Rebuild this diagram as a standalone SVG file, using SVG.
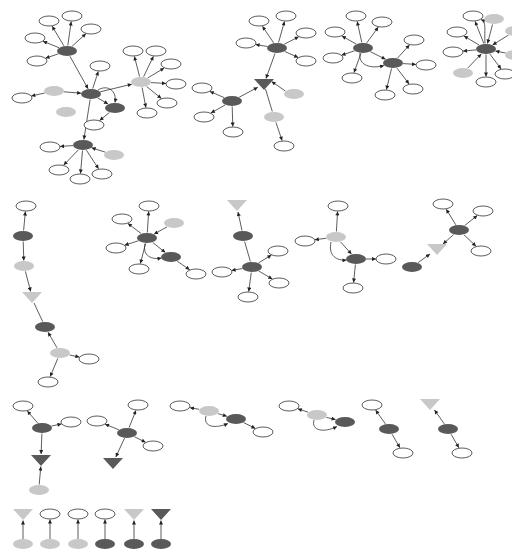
<svg xmlns="http://www.w3.org/2000/svg" width="512" height="549" viewBox="0 0 512 549">
<defs>
<marker id="ah" viewBox="0 0 10 10" refX="10" refY="5" markerWidth="5" markerHeight="4" orient="auto" markerUnits="userSpaceOnUse"><path d="M0,0L10,5L0,10z" fill="#222"/></marker>
<style>
.w{fill:#fff;stroke:#333;stroke-width:0.8}
.d{fill:#595959}
.l{fill:#c8c8c8}
.e{stroke:#333;stroke-width:0.8;fill:none;marker-end:url(#ah)}
.p{stroke:#333;stroke-width:0.8;fill:none}
</style>
</defs>
<rect width="512" height="549" fill="#fff"/>
<g id="edges">
<line class="e" x1="63.9" y1="45.8" x2="52.1" y2="26.2"/>
<line class="e" x1="67.8" y1="45.5" x2="71.2" y2="21.5"/>
<line class="e" x1="72.1" y1="46.3" x2="85.9" y2="33.7"/>
<line class="e" x1="59" y1="47.7" x2="43" y2="41.3"/>
<line class="e" x1="58.5" y1="53.8" x2="45.5" y2="58.2"/>
<line class="e" x1="69.9" y1="56.2" x2="88.1" y2="88.8"/>
<line class="e" x1="92.7" y1="88.6" x2="98.3" y2="71.4"/>
<line class="e" x1="100.2" y1="91.8" x2="131.8" y2="84.2"/>
<line class="e" x1="63.9" y1="91.8" x2="81.1" y2="93.2"/>
<line class="e" x1="44.7" y1="93" x2="31.3" y2="96"/>
<line class="e" x1="97.9" y1="98" x2="108.1" y2="104"/>
<path class="e" d="M98,90 C108,84 117,91 115,102.5"/>
<line class="e" x1="109.4" y1="112.5" x2="99.6" y2="120.5"/>
<line class="e" x1="90.1" y1="99.5" x2="83.9" y2="139.5"/>
<line class="e" x1="73" y1="145.6" x2="60" y2="146.4"/>
<line class="e" x1="78.3" y1="149.9" x2="63.7" y2="165.1"/>
<line class="e" x1="82.5" y1="150.5" x2="80.5" y2="173.5"/>
<line class="e" x1="86.4" y1="150.2" x2="98.6" y2="168.8"/>
<line class="e" x1="105.4" y1="152.2" x2="91.6" y2="147.8"/>
<line class="e" x1="139.6" y1="76.6" x2="134.4" y2="56.4"/>
<line class="e" x1="143.6" y1="76.7" x2="153.4" y2="56.3"/>
<line class="e" x1="147.8" y1="77.9" x2="164.2" y2="68.1"/>
<line class="e" x1="151" y1="82.6" x2="166" y2="83.4"/>
<line class="e" x1="146.6" y1="86.5" x2="161.4" y2="98.5"/>
<line class="e" x1="142.1" y1="87.5" x2="145.9" y2="107.5"/>
<line class="e" x1="273.6" y1="42.8" x2="262.4" y2="26.2"/>
<line class="e" x1="278.5" y1="42.6" x2="284.5" y2="21.4"/>
<line class="e" x1="284.3" y1="44.2" x2="298.7" y2="36.8"/>
<line class="e" x1="267.4" y1="46.5" x2="255.6" y2="44.5"/>
<line class="e" x1="284.8" y1="51.5" x2="298.2" y2="57.5"/>
<line class="e" x1="275" y1="53.5" x2="266" y2="78.5"/>
<line class="e" x1="239.2" y1="97.2" x2="257.8" y2="87.3"/>
<line class="e" x1="285.4" y1="91.1" x2="271.6" y2="81.5"/>
<line class="p" x1="265.5" y1="89" x2="272.3" y2="111.5"/>
<line class="e" x1="275.9" y1="122.4" x2="282.1" y2="140.6"/>
<line class="e" x1="224.1" y1="97.6" x2="209.9" y2="91.4"/>
<line class="e" x1="225.1" y1="105" x2="210.9" y2="113"/>
<line class="e" x1="232.2" y1="106.5" x2="232.8" y2="126.5"/>
<line class="e" x1="361.8" y1="42.5" x2="357.2" y2="21.5"/>
<line class="e" x1="366.7" y1="42.9" x2="378.3" y2="27.1"/>
<line class="e" x1="356.1" y1="44" x2="341.9" y2="36"/>
<line class="e" x1="354.5" y1="50.8" x2="341.5" y2="55.2"/>
<line class="e" x1="361" y1="53.4" x2="354" y2="72.6"/>
<line class="e" x1="370.4" y1="51.7" x2="385.6" y2="59.3"/>
<path class="e" d="M360,53 C358,66 372,69 384,65.5"/>
<line class="e" x1="397.5" y1="58.1" x2="409.5" y2="44.9"/>
<line class="e" x1="403" y1="63.6" x2="416" y2="64.4"/>
<line class="e" x1="396.9" y1="68.1" x2="409.1" y2="83.9"/>
<line class="e" x1="391.6" y1="68.4" x2="386.4" y2="89.6"/>
<line class="e" x1="483.9" y1="43.6" x2="475.1" y2="21.4"/>
<path class="e" d="M485,43.5 C484,30 487,22 481,19.5"/>
<line class="e" x1="479.1" y1="45" x2="463.9" y2="36"/>
<line class="e" x1="476" y1="49.9" x2="463" y2="51.1"/>
<line class="e" x1="486" y1="54.5" x2="486" y2="76.5"/>
<line class="e" x1="489.9" y1="54.1" x2="501.1" y2="68.9"/>
<line class="e" x1="492.5" y1="24.5" x2="487.5" y2="43.5"/>
<line class="e" x1="508.4" y1="35.1" x2="492.6" y2="44.9"/>
<line class="e" x1="505.6" y1="53" x2="495.4" y2="51"/>
<line class="e" x1="467.7" y1="68.1" x2="481.3" y2="53.9"/>
<line class="e" x1="23.6" y1="230.5" x2="25.4" y2="211.5"/>
<line class="e" x1="23.2" y1="241.5" x2="23.8" y2="260.5"/>
<line class="e" x1="25.4" y1="271.4" x2="30.7" y2="291.5"/>
<line class="e" x1="57" y1="347.8" x2="48" y2="332.2"/>
<line class="p" x1="34" y1="303" x2="42.7" y2="321.6"/>
<line class="e" x1="69.6" y1="355" x2="79.4" y2="357"/>
<line class="e" x1="57.8" y1="358.4" x2="50.2" y2="376.6"/>
<line class="e" x1="147.3" y1="232.5" x2="148.7" y2="211.5"/>
<line class="e" x1="141.1" y1="233.5" x2="127.9" y2="223.5"/>
<line class="e" x1="138.4" y1="240.8" x2="124.6" y2="245.2"/>
<line class="e" x1="145.6" y1="243.5" x2="140.4" y2="263.5"/>
<line class="e" x1="167" y1="226.9" x2="154" y2="234.1"/>
<line class="e" x1="152.7" y1="242.5" x2="165.3" y2="252.5"/>
<path class="e" d="M145,243.5 C142,256 152,260 161.5,258"/>
<line class="e" x1="177.3" y1="261.3" x2="189.7" y2="269.7"/>
<line class="e" x1="242" y1="230.6" x2="238" y2="212"/>
<line class="p" x1="250.4" y1="261.5" x2="244.6" y2="241.5"/>
<line class="e" x1="258.6" y1="262.9" x2="271.4" y2="255.1"/>
<line class="e" x1="242.4" y1="268.6" x2="231.6" y2="270.4"/>
<line class="e" x1="258.7" y1="271" x2="272.3" y2="279"/>
<line class="e" x1="251.3" y1="272.5" x2="248.7" y2="291.5"/>
<line class="e" x1="336.4" y1="231.5" x2="337.6" y2="211.5"/>
<line class="e" x1="326.2" y1="238.3" x2="314.8" y2="239.7"/>
<line class="e" x1="340.5" y1="241.9" x2="351.5" y2="254.1"/>
<path class="e" d="M331,242 C328,256 337,261 346.5,260"/>
<line class="e" x1="366" y1="259" x2="376" y2="259"/>
<line class="e" x1="355.4" y1="264.5" x2="353.6" y2="282.5"/>
<line class="e" x1="455.8" y1="224.8" x2="446.2" y2="209.2"/>
<line class="e" x1="464.7" y1="225.5" x2="477.3" y2="215.5"/>
<line class="e" x1="464" y1="234.8" x2="476" y2="246.2"/>
<line class="e" x1="453.6" y1="234.6" x2="443" y2="244"/>
<line class="e" x1="418.1" y1="262.6" x2="430" y2="254"/>
<line class="e" x1="37.7" y1="423" x2="27.3" y2="411"/>
<line class="e" x1="51.5" y1="426" x2="61.5" y2="424"/>
<line class="e" x1="41.9" y1="433.5" x2="41.1" y2="454"/>
<line class="e" x1="39.2" y1="484.5" x2="40.8" y2="466.5"/>
<line class="e" x1="129.1" y1="427.6" x2="135.9" y2="410.4"/>
<line class="e" x1="118.9" y1="429.8" x2="105.1" y2="424.2"/>
<line class="e" x1="134.4" y1="436.7" x2="145.6" y2="442.3"/>
<line class="e" x1="124.6" y1="438" x2="115.8" y2="457"/>
<line class="e" x1="199.1" y1="409.3" x2="189.9" y2="407.7"/>
<line class="e" x1="218.1" y1="413.7" x2="226.9" y2="416.3"/>
<path class="e" d="M206,416 C203,427 215,429 228,423.5"/>
<line class="e" x1="243.6" y1="422.6" x2="255.4" y2="428.4"/>
<line class="e" x1="308.2" y1="412.2" x2="297.8" y2="408.8"/>
<line class="e" x1="326.4" y1="417.4" x2="335.6" y2="419.6"/>
<path class="e" d="M314,420 C311,431 324,433 337,426.5"/>
<line class="e" x1="385.4" y1="423.9" x2="375.6" y2="410.1"/>
<line class="e" x1="392.1" y1="434.2" x2="399.9" y2="447.8"/>
<line class="e" x1="444.3" y1="423.9" x2="434.5" y2="410"/>
<line class="e" x1="451.1" y1="434.2" x2="458.9" y2="447.8"/>
<line class="e" x1="23" y1="539" x2="23" y2="520.5"/>
<line class="e" x1="50" y1="539" x2="50" y2="519.5"/>
<line class="e" x1="78" y1="539" x2="78" y2="519.5"/>
<line class="e" x1="105" y1="539" x2="105" y2="519.5"/>
<line class="e" x1="134" y1="539" x2="134" y2="520.5"/>
<line class="e" x1="161" y1="539" x2="161" y2="520.5"/>
</g>
<g id="n1"><ellipse class="d" cx="67" cy="51" rx="10" ry="5"/></g>
<g id="n2"><ellipse class="w" cx="49" cy="21" rx="10" ry="5"/></g>
<g id="n3"><ellipse class="w" cx="72" cy="16" rx="10" ry="5"/></g>
<g id="n4"><ellipse class="w" cx="91" cy="29" rx="10" ry="5"/></g>
<g id="n5"><ellipse class="w" cx="35" cy="38" rx="10" ry="5"/></g>
<g id="n6"><ellipse class="w" cx="37" cy="61" rx="10" ry="5"/></g>
<g id="n7"><ellipse class="d" cx="91" cy="94" rx="10" ry="5"/></g>
<g id="n8"><ellipse class="w" cx="100" cy="66" rx="10" ry="5"/></g>
<g id="n9"><ellipse class="l" cx="54" cy="91" rx="10" ry="5"/></g>
<g id="n10"><ellipse class="w" cx="22" cy="98" rx="10" ry="5"/></g>
<g id="n11"><ellipse class="l" cx="66" cy="112" rx="10" ry="5"/></g>
<g id="n12"><ellipse class="d" cx="115" cy="108" rx="10" ry="5"/></g>
<g id="n13"><ellipse class="w" cx="94" cy="125" rx="10" ry="5"/></g>
<g id="n14"><ellipse class="d" cx="83" cy="145" rx="10" ry="5"/></g>
<g id="n15"><ellipse class="w" cx="50" cy="147" rx="10" ry="5"/></g>
<g id="n16"><ellipse class="w" cx="59" cy="170" rx="10" ry="5"/></g>
<g id="n17"><ellipse class="w" cx="80" cy="179" rx="10" ry="5"/></g>
<g id="n18"><ellipse class="w" cx="102" cy="174" rx="10" ry="5"/></g>
<g id="n19"><ellipse class="l" cx="114" cy="155" rx="10" ry="5"/></g>
<g id="n20"><ellipse class="l" cx="141" cy="82" rx="10" ry="5"/></g>
<g id="n21"><ellipse class="w" cx="133" cy="51" rx="10" ry="5"/></g>
<g id="n22"><ellipse class="w" cx="156" cy="51" rx="10" ry="5"/></g>
<g id="n23"><ellipse class="w" cx="171" cy="64" rx="10" ry="5"/></g>
<g id="n24"><ellipse class="w" cx="176" cy="84" rx="10" ry="5"/></g>
<g id="n25"><ellipse class="w" cx="167" cy="103" rx="10" ry="5"/></g>
<g id="n26"><ellipse class="w" cx="147" cy="113" rx="10" ry="5"/></g>
<g id="n27"><ellipse class="d" cx="277" cy="48" rx="10" ry="5"/></g>
<g id="n28"><ellipse class="w" cx="259" cy="21" rx="10" ry="5"/></g>
<g id="n29"><ellipse class="w" cx="286" cy="16" rx="10" ry="5"/></g>
<g id="n30"><ellipse class="w" cx="306" cy="33" rx="10" ry="5"/></g>
<g id="n31"><ellipse class="w" cx="246" cy="43" rx="10" ry="5"/></g>
<g id="n32"><ellipse class="w" cx="306" cy="61" rx="10" ry="5"/></g>
<g id="n33"><polygon class="d" points="254,79 274,79 264,90"/></g>
<g id="n34"><ellipse class="l" cx="294" cy="94" rx="10" ry="5"/></g>
<g id="n35"><ellipse class="l" cx="274" cy="117" rx="10" ry="5"/></g>
<g id="n36"><ellipse class="w" cx="284" cy="146" rx="10" ry="5"/></g>
<g id="n37"><ellipse class="d" cx="232" cy="101" rx="10" ry="5"/></g>
<g id="n38"><ellipse class="w" cx="202" cy="88" rx="10" ry="5"/></g>
<g id="n39"><ellipse class="w" cx="204" cy="117" rx="10" ry="5"/></g>
<g id="n40"><ellipse class="w" cx="233" cy="132" rx="10" ry="5"/></g>
<g id="n41"><ellipse class="d" cx="363" cy="48" rx="10" ry="5"/></g>
<g id="n42"><ellipse class="w" cx="356" cy="16" rx="10" ry="5"/></g>
<g id="n43"><ellipse class="w" cx="382" cy="22" rx="10" ry="5"/></g>
<g id="n44"><ellipse class="w" cx="335" cy="32" rx="10" ry="5"/></g>
<g id="n45"><ellipse class="w" cx="333" cy="58" rx="10" ry="5"/></g>
<g id="n46"><ellipse class="w" cx="352" cy="78" rx="10" ry="5"/></g>
<g id="n47"><ellipse class="d" cx="393" cy="63" rx="10" ry="5"/></g>
<g id="n48"><ellipse class="w" cx="414" cy="40" rx="10" ry="5"/></g>
<g id="n49"><ellipse class="w" cx="426" cy="65" rx="10" ry="5"/></g>
<g id="n50"><ellipse class="w" cx="413" cy="89" rx="10" ry="5"/></g>
<g id="n51"><ellipse class="w" cx="385" cy="95" rx="10" ry="5"/></g>
<g id="n52"><ellipse class="d" cx="486" cy="49" rx="10" ry="5"/></g>
<g id="n53"><ellipse class="w" cx="473" cy="16" rx="10" ry="5"/></g>
<g id="n54"><ellipse class="w" cx="457" cy="32" rx="10" ry="5"/></g>
<g id="n55"><ellipse class="w" cx="453" cy="52" rx="10" ry="5"/></g>
<g id="n56"><ellipse class="w" cx="486" cy="82" rx="10" ry="5"/></g>
<g id="n57"><ellipse class="w" cx="505" cy="74" rx="10" ry="5"/></g>
<g id="n58"><ellipse class="l" cx="494" cy="19" rx="10" ry="5"/></g>
<g id="n59"><ellipse class="l" cx="515" cy="31" rx="10" ry="5"/></g>
<g id="n60"><ellipse class="l" cx="515" cy="55" rx="10" ry="5"/></g>
<g id="n61"><ellipse class="l" cx="463" cy="73" rx="10" ry="5"/></g>
<g id="n62"><ellipse class="w" cx="26" cy="206" rx="10" ry="5"/></g>
<g id="n63"><ellipse class="d" cx="23" cy="236" rx="10" ry="5"/></g>
<g id="n64"><ellipse class="l" cx="24" cy="266" rx="10" ry="5"/></g>
<g id="n65"><polygon class="l" points="22,292 42,292 32,303"/></g>
<g id="n66"><ellipse class="d" cx="45" cy="327" rx="10" ry="5"/></g>
<g id="n67"><ellipse class="l" cx="60" cy="353" rx="10" ry="5"/></g>
<g id="n68"><ellipse class="w" cx="89" cy="359" rx="10" ry="5"/></g>
<g id="n69"><ellipse class="w" cx="48" cy="382" rx="10" ry="5"/></g>
<g id="n70"><ellipse class="d" cx="147" cy="238" rx="10" ry="5"/></g>
<g id="n71"><ellipse class="w" cx="149" cy="206" rx="10" ry="5"/></g>
<g id="n72"><ellipse class="w" cx="122" cy="219" rx="10" ry="5"/></g>
<g id="n73"><ellipse class="w" cx="116" cy="248" rx="10" ry="5"/></g>
<g id="n74"><ellipse class="w" cx="139" cy="269" rx="10" ry="5"/></g>
<g id="n75"><ellipse class="l" cx="174" cy="223" rx="10" ry="5"/></g>
<g id="n76"><ellipse class="d" cx="171" cy="257" rx="10" ry="5"/></g>
<g id="n77"><ellipse class="w" cx="196" cy="274" rx="10" ry="5"/></g>
<g id="n78"><polygon class="l" points="227,200 247,200 237,211"/></g>
<g id="n79"><ellipse class="d" cx="243" cy="236" rx="10" ry="5"/></g>
<g id="n80"><ellipse class="d" cx="252" cy="267" rx="10" ry="5"/></g>
<g id="n81"><ellipse class="w" cx="278" cy="251" rx="10" ry="5"/></g>
<g id="n82"><ellipse class="w" cx="222" cy="272" rx="10" ry="5"/></g>
<g id="n83"><ellipse class="w" cx="279" cy="283" rx="10" ry="5"/></g>
<g id="n84"><ellipse class="w" cx="248" cy="297" rx="10" ry="5"/></g>
<g id="n85"><ellipse class="l" cx="336" cy="237" rx="10" ry="5"/></g>
<g id="n86"><ellipse class="w" cx="338" cy="206" rx="10" ry="5"/></g>
<g id="n87"><ellipse class="w" cx="305" cy="241" rx="10" ry="5"/></g>
<g id="n88"><ellipse class="d" cx="356" cy="259" rx="10" ry="5"/></g>
<g id="n89"><ellipse class="w" cx="386" cy="259" rx="10" ry="5"/></g>
<g id="n90"><ellipse class="w" cx="353" cy="288" rx="10" ry="5"/></g>
<g id="n91"><ellipse class="d" cx="459" cy="230" rx="10" ry="5"/></g>
<g id="n92"><ellipse class="w" cx="443" cy="204" rx="10" ry="5"/></g>
<g id="n93"><ellipse class="w" cx="483" cy="211" rx="10" ry="5"/></g>
<g id="n94"><ellipse class="w" cx="481" cy="251" rx="10" ry="5"/></g>
<g id="n95"><polygon class="l" points="427,244 447,244 437,255"/></g>
<g id="n96"><ellipse class="d" cx="412" cy="267" rx="10" ry="5"/></g>
<g id="n97"><ellipse class="w" cx="23" cy="406" rx="10" ry="5"/></g>
<g id="n98"><ellipse class="d" cx="42" cy="428" rx="10" ry="5"/></g>
<g id="n99"><ellipse class="w" cx="71" cy="422" rx="10" ry="5"/></g>
<g id="n100"><polygon class="d" points="31,455 51,455 41,466"/></g>
<g id="n101"><ellipse class="l" cx="39" cy="490" rx="10" ry="5"/></g>
<g id="n102"><ellipse class="w" cx="138" cy="405" rx="10" ry="5"/></g>
<g id="n103"><ellipse class="w" cx="97" cy="421" rx="10" ry="5"/></g>
<g id="n104"><ellipse class="d" cx="127" cy="433" rx="10" ry="5"/></g>
<g id="n105"><ellipse class="w" cx="153" cy="446" rx="10" ry="5"/></g>
<g id="n106"><polygon class="d" points="103,458 123,458 113,469"/></g>
<g id="n107"><ellipse class="w" cx="180" cy="406" rx="10" ry="5"/></g>
<g id="n108"><ellipse class="l" cx="209" cy="411" rx="10" ry="5"/></g>
<g id="n109"><ellipse class="d" cx="236" cy="419" rx="10" ry="5"/></g>
<g id="n110"><ellipse class="w" cx="263" cy="432" rx="10" ry="5"/></g>
<g id="n111"><ellipse class="w" cx="289" cy="406" rx="10" ry="5"/></g>
<g id="n112"><ellipse class="l" cx="317" cy="415" rx="10" ry="5"/></g>
<g id="n113"><ellipse class="d" cx="345" cy="422" rx="10" ry="5"/></g>
<g id="n114"><ellipse class="w" cx="372" cy="405" rx="10" ry="5"/></g>
<g id="n115"><ellipse class="d" cx="389" cy="429" rx="10" ry="5"/></g>
<g id="n116"><ellipse class="w" cx="403" cy="453" rx="10" ry="5"/></g>
<g id="n117"><polygon class="l" points="420,399 440,399 430,410"/></g>
<g id="n118"><ellipse class="d" cx="448" cy="429" rx="10" ry="5"/></g>
<g id="n119"><ellipse class="w" cx="462" cy="453" rx="10" ry="5"/></g>
<g id="n120"><polygon class="l" points="13,509 33,509 23,520"/></g>
<g id="n121"><ellipse class="w" cx="50" cy="514" rx="10" ry="5"/></g>
<g id="n122"><ellipse class="w" cx="78" cy="514" rx="10" ry="5"/></g>
<g id="n123"><ellipse class="w" cx="105" cy="514" rx="10" ry="5"/></g>
<g id="n124"><polygon class="l" points="124,509 144,509 134,520"/></g>
<g id="n125"><polygon class="d" points="151,509 171,509 161,520"/></g>
<g id="n126"><ellipse class="l" cx="23" cy="544" rx="10" ry="5"/></g>
<g id="n127"><ellipse class="l" cx="50" cy="544" rx="10" ry="5"/></g>
<g id="n128"><ellipse class="l" cx="78" cy="544" rx="10" ry="5"/></g>
<g id="n129"><ellipse class="d" cx="105" cy="544" rx="10" ry="5"/></g>
<g id="n130"><ellipse class="d" cx="134" cy="544" rx="10" ry="5"/></g>
<g id="n131"><ellipse class="d" cx="161" cy="544" rx="10" ry="5"/></g>
</svg>
